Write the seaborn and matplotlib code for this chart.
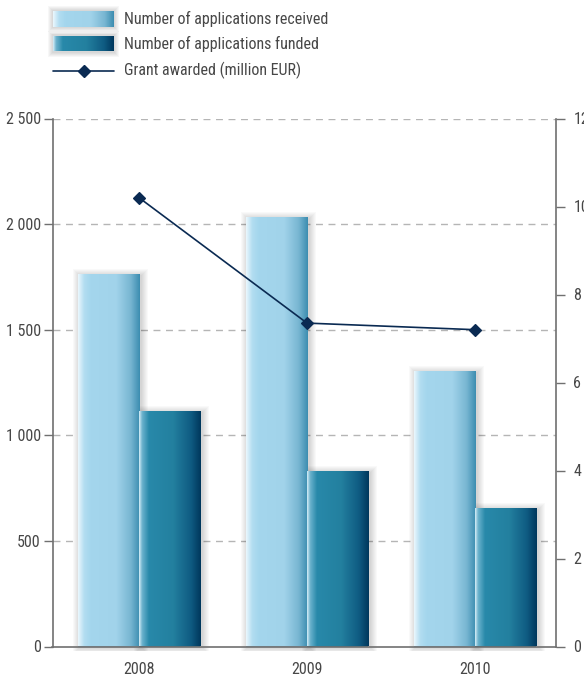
import numpy as np
import pandas as pd
import matplotlib
matplotlib.use("Agg")
import matplotlib.pyplot as plt
from matplotlib import font_manager
import seaborn as sns
from matplotlib.patches import Rectangle
from matplotlib.lines import Line2D
from matplotlib.colors import LinearSegmentedColormap
from matplotlib.ticker import FuncFormatter

# ---- data ----
years = ["2008", "2009", "2010"]
received = [1760, 2030, 1300]
funded = [1110, 825, 650]
grant = [10.2, 7.35, 7.2]
series_names = ["Number of applications received", "Number of applications funded"]
line_name = "Grant awarded (million EUR)"
left_ticks = [0, 500, 1000, 1500, 2000, 2500]
right_ticks = [0, 2, 4, 6, 8, 10, 12]

sns.set_theme(style="white")

avail = {f.name for f in font_manager.fontManager.ttflist}
prefs = ["Roboto Condensed", "Liberation Sans Narrow", "Roboto"]
chosen = [f for f in prefs if f in avail][:1] or ["DejaVu Sans"]
plt.rcParams["font.family"] = chosen + ["DejaVu Sans"]
plt.rcParams["font.weight"] = "normal"

TXT = "#474747"
SPINE = "#707070"
FS = 11.5

W, H = 584, 680
fig = plt.figure(figsize=(W / 100, H / 100), dpi=100)

def fx(px):
    return px / W

def fy(py):
    return 1 - py / H

ax = fig.add_axes([fx(52.5), fy(646.5), fx(556) - fx(52.5), fy(118.5) - fy(646.5)])

df = pd.DataFrame({
    "year": years * 2,
    "value": received + funded,
    "series": [series_names[0]] * 3 + [series_names[1]] * 3,
})
sns.barplot(data=df, x="year", y="value", hue="series", order=years,
            hue_order=series_names, palette=["#a3d5ec", "#2686a7"],
            width=0.73, gap=0, dodge=True, ax=ax, legend=False,
            edgecolor="none", linewidth=0, saturation=1)

XL = (-0.515, 2.482)
ax.set_xlim(*XL)
ax.set_ylim(0, 2500)

cm_rec = LinearSegmentedColormap.from_list("rec", [
    (0.0, "#eaf7fd"), (0.10, "#b2ddf1"), (0.20, "#a4d6ed"), (0.62, "#a1d3ea"),
    (0.85, "#78b6d2"), (1.0, "#3c8db0")])
cm_fun = LinearSegmentedColormap.from_list("fun", [
    (0.0, "#d6eef7"), (0.05, "#6cb2cd"), (0.16, "#2889aa"), (0.55, "#23809f"),
    (0.84, "#0f5b82"), (1.0, "#00375c")])
grad = np.linspace(0, 1, 256).reshape(1, -1)

xpp = (XL[1] - XL[0]) / (556 - 52.5)   # data units per pixel (x)
ypp = 2500 / (646.5 - 118.5)            # data units per pixel (y)

bars = [p for p in ax.patches if isinstance(p, Rectangle) and p.get_height() > 0]
for i, p in enumerate(bars):
    x0, w, h = p.get_x(), p.get_width(), p.get_height()
    for k in range(1, 8):
        ax.add_patch(Rectangle((x0 - k * xpp + 2 * xpp, -min(k, 4) * ypp),
                               w + 2 * k * xpp, h + min(k, 4) * ypp + k * ypp - 1 * ypp,
                               facecolor="#000000", alpha=0.022, edgecolor="none",
                               zorder=1.5, clip_on=False))
    cmap = cm_rec if i < 3 else cm_fun
    ax.imshow(grad, cmap=cmap, extent=[x0, x0 + w, 0, h], aspect="auto",
              zorder=2.5, interpolation="bilinear")
ax.set_xlim(*XL)
ax.set_ylim(0, 2500)

ax.set_yticks(left_ticks)
ax.yaxis.set_major_formatter(FuncFormatter(lambda v, _: f"{int(v):,}".replace(",", " ")))
for t in left_ticks[1:]:
    ax.axhline(t, color="#b5b5b5", lw=1.0, ls=(0, (5, 4)), zorder=0.5)
ax.grid(False)
for s in ["top", "right"]:
    ax.spines[s].set_visible(False)
for s in ["left", "bottom"]:
    ax.spines[s].set_color(SPINE)
    ax.spines[s].set_linewidth(1.2)
ax.tick_params(axis="y", which="both", left=True, length=6.5, width=1.0,
               color=SPINE, labelcolor=TXT, labelsize=FS, pad=2)
ax.tick_params(axis="x", bottom=False, labelcolor=TXT, labelsize=FS, pad=5)
ax.set_xlabel("")
ax.set_ylabel("")

ax2 = ax.twinx()
sns.pointplot(x=years, y=grant, order=years, ax=ax2, color="#0a2a52",
              markers="D", linestyles="-", errorbar=None,
              markersize=6, linewidth=1.2)
ax2.set_xlim(*XL)
ax2.set_ylim(0, 12)
ax2.set_yticks(right_ticks)
ax2.grid(False)
for s in ["top", "left", "bottom"]:
    ax2.spines[s].set_visible(False)
ax2.spines["right"].set_color(SPINE)
ax2.spines["right"].set_linewidth(1.2)
ax2.tick_params(axis="y", right=True, length=6.5, width=1.0, color=SPINE,
                labelcolor=TXT, labelsize=FS, pad=6)
ax2.set_ylabel("")
ax2.set_xlabel("")

rows_y = [18.7, 43.5, 70.5]
px0, px1 = 53, 114
for j, cmap in enumerate([cm_rec, cm_fun]):
    cy = rows_y[j]
    for k in range(1, 6):
        fig.patches.append(Rectangle((fx(px0 - k), fy(cy + 8 + k)),
                                     fx(px1 - px0 + 2 * k), fy(0) - fy(16 + 2 * k),
                                     transform=fig.transFigure, facecolor="#000000",
                                     alpha=0.03, edgecolor="none", zorder=-1))
    lax = fig.add_axes([fx(px0), fy(cy + 8), fx(px1 - px0), fy(0) - fy(16)])
    lax.set_zorder(1)
    lax.imshow(grad, cmap=cmap, aspect="auto", interpolation="bilinear")
    lax.set_axis_off()
fig.add_artist(Line2D([fx(px0), fx(px1)], [fy(rows_y[2])] * 2, color="#0a2a52",
                      lw=1.2, transform=fig.transFigure))
fig.add_artist(Line2D([fx((px0 + px1) / 2)], [fy(rows_y[2])], color="#0a2a52",
                      marker="D", markersize=6, transform=fig.transFigure))
for j, lbl in enumerate(series_names + [line_name]):
    fig.text(fx(124), fy(rows_y[j]), lbl, ha="left", va="center",
             fontsize=FS, color=TXT)

fig.savefig("out.png", dpi=100)
